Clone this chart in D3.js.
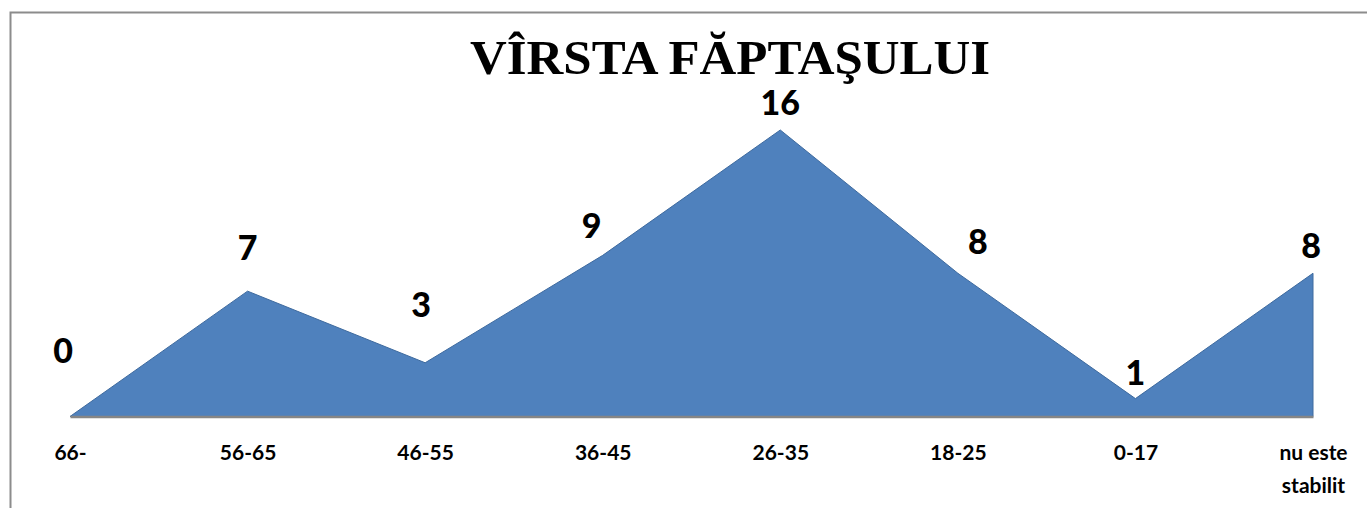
<!DOCTYPE html>
<html>
<head>
<meta charset="utf-8">
<script src="https://cdn.jsdelivr.net/npm/d3@7.9.0/dist/d3.min.js"></script>
<style>
  html, body { margin: 0; padding: 0; background: #fff; }
  svg { display: block; }
</style>
</head>
<body>
<svg id="chart" width="1367" height="508"></svg>
<script>
// data
const categories = ["66-", "56-65", "46-55", "36-45", "26-35", "18-25", "0-17", "nu este stabilit"];
const values = [0, 7, 3, 9, 16, 8, 1, 8];
const titleText = "VÎRSTA FĂPTAŞULUI";

// hand-moved data labels (dx, dy from the point)
const labelShift = [[-7, -66], [0, -43], [-4, -58], [-11, -30], [0, -27], [20, -31], [0, -26], [-2, -27]];

const svg = d3.select("#chart");

// chart frame (only left + top edges are visible)
svg.append("path")
  .attr("d", "M10.5,508V12.5H1367")
  .attr("fill", "none")
  .attr("stroke", "#8c8c8c")
  .attr("stroke-width", 2);

// title
svg.append("text")
  .attr("x", 730)
  .attr("y", 74)
  .attr("text-anchor", "middle")
  .attr("textLength", 520)
  .attr("lengthAdjust", "spacingAndGlyphs")
  .style("font-family", "'Liberation Serif', 'Times New Roman', serif")
  .style("font-weight", "bold")
  .style("font-size", "48px")
  .text(titleText);

const x = d3.scalePoint().domain(categories).range([70, 1313]);
const y = d3.scaleLinear().domain([0, 16]).range([416.5, 130]);

const data = categories.map((c, i) => ({ cat: c, value: values[i] }));

// area
const area = d3.area()
  .x(d => x(d.cat))
  .y0(y(0))
  .y1(d => y(d.value));

svg.append("path")
  .datum(data)
  .attr("d", area)
  .attr("fill", "#4f81bd")
  .attr("stroke", "#3e6a9e")
  .attr("stroke-width", 1);

// x axis
const xAxis = svg.append("g")
  .attr("transform", `translate(0,${y(0)})`)
  .call(d3.axisBottom(x).tickSize(0).tickSizeOuter(0));

xAxis.select(".domain")
  .attr("stroke", "#868686")
  .attr("stroke-width", 2.5);

xAxis.selectAll(".tick text").each(function (d) {
  const t = d3.select(this);
  t.text(null)
    .attr("y", 43)
    .attr("dy", null)
    .attr("fill", "#000")
    .style("font-family", "Lato, 'Open Sans', sans-serif")
    .style("font-weight", "bold")
    .style("font-size", "21px");
  if (d === "nu este stabilit") {
    t.append("tspan").attr("x", 0).attr("dy", 0).text("nu este");
    t.append("tspan").attr("x", 0).attr("dy", 33).text("stabilit");
  } else {
    t.text(d);
  }
});

// data labels
svg.append("g")
  .selectAll("text")
  .data(data)
  .join("text")
  .attr("x", (d, i) => x(d.cat) + labelShift[i][0])
  .attr("y", (d, i) => y(d.value) + labelShift[i][1])
  .attr("dy", "0.36em")
  .attr("text-anchor", "middle")
  .style("font-family", "Lato, 'Open Sans', sans-serif")
  .style("font-weight", "900")
  .style("font-size", "34px")
  .text(d => d.value);
</script>
</body>
</html>
